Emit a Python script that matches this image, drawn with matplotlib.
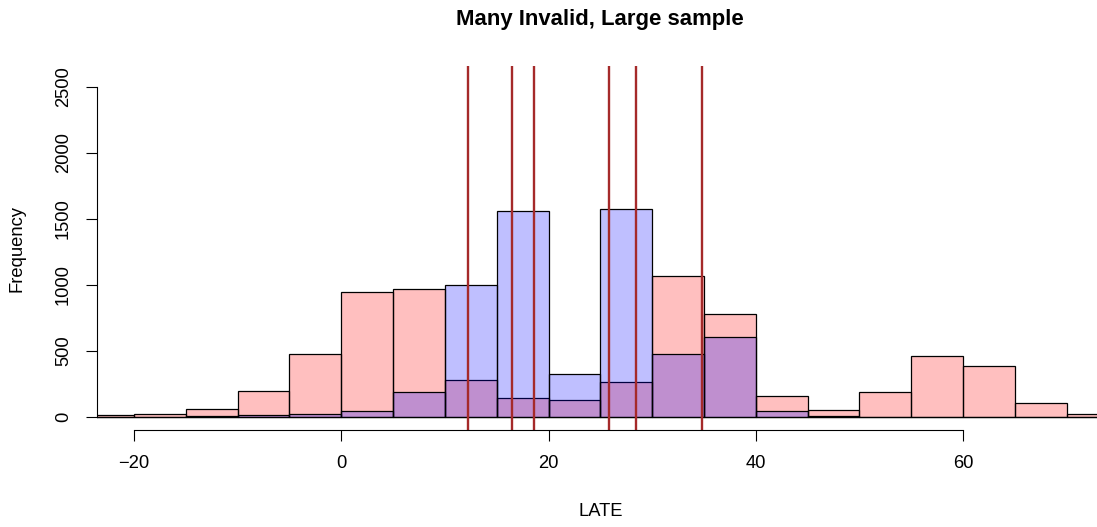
import matplotlib
matplotlib.use("Agg")
import matplotlib.pyplot as plt
import numpy as np

plt.rcParams['font.family'] = ['Liberation Sans', 'DejaVu Sans']

# Histogram bin edges (width 5)
breaks = list(range(-25, 80, 5))
# Counts per bin, "red" sample (many invalid)
red_counts = [13, 25, 61, 195, 480, 947, 967, 278, 141, 129, 268, 1071, 780, 160, 56, 192, 462, 386, 107, 20]
# Counts per bin, "blue" sample
blue_counts = [0, 3, 5, 17, 20, 48, 187, 997, 1563, 328, 1573, 480, 604, 43, 8, 0, 0, 0, 0, 0]
# Vertical reference lines
vlines = [12.2, 16.45, 18.55, 25.8, 28.45, 34.85]
xticks = [-20, 0, 20, 40, 60]
yticks = [0, 500, 1000, 1500, 2000, 2500]

W, H = 1097, 527
fig = plt.figure(figsize=(W / 100, H / 100), dpi=100)
left_px, right_px, top_px, bot_px = 96.7, 1104.0, 66.0, 430.0
ax = fig.add_axes([left_px / W, 1 - bot_px / H, (right_px - left_px) / W, (bot_px - top_px) / H])

edges = np.array(breaks, dtype=float)
widths = np.diff(edges)
ax.bar(edges[:-1], red_counts, width=widths, align='edge',
       facecolor=(1, 0, 0, 0.25), edgecolor='black', linewidth=0.9)
ax.bar(edges[:-1], blue_counts, width=widths, align='edge',
       facecolor=(0, 0, 1, 0.25), edgecolor='black', linewidth=0.9)

for v in vlines:
    ax.axvline(v, color='#A52A2A', linewidth=1.7)

ax.set_xlim(-23.6, 73.6)
ax.set_ylim(-98.5, 2659)

for s in ['top', 'right']:
    ax.spines[s].set_visible(False)
ax.spines['bottom'].set_bounds(-20, 60)
ax.spines['left'].set_bounds(0, 2500)
for s in ['bottom', 'left']:
    ax.spines[s].set_linewidth(0.8)

ax.set_xticks(xticks)
ax.set_xticklabels([str(t).replace('-', '\u2212') for t in xticks])
ax.set_yticks(yticks)
ax.set_yticklabels([str(t) for t in yticks], rotation=90, va='center')
ax.tick_params(axis='both', direction='out', length=7.8, width=0.8, labelsize=13.2)
ax.tick_params(axis='x', pad=10)
ax.tick_params(axis='y', pad=10)

fig.text(600 / W, 1 - 20 / H, 'Many Invalid, Large sample', ha='center', va='center',
         fontsize=15.9, fontweight='bold')
fig.text(601 / W, 1 - 511 / H, 'LATE', ha='center', va='center', fontsize=13.2)
fig.text(17 / W, 1 - 248 / H, 'Frequency', ha='center', va='center', fontsize=13.2, rotation=90)

fig.savefig('out.png', dpi=100)
